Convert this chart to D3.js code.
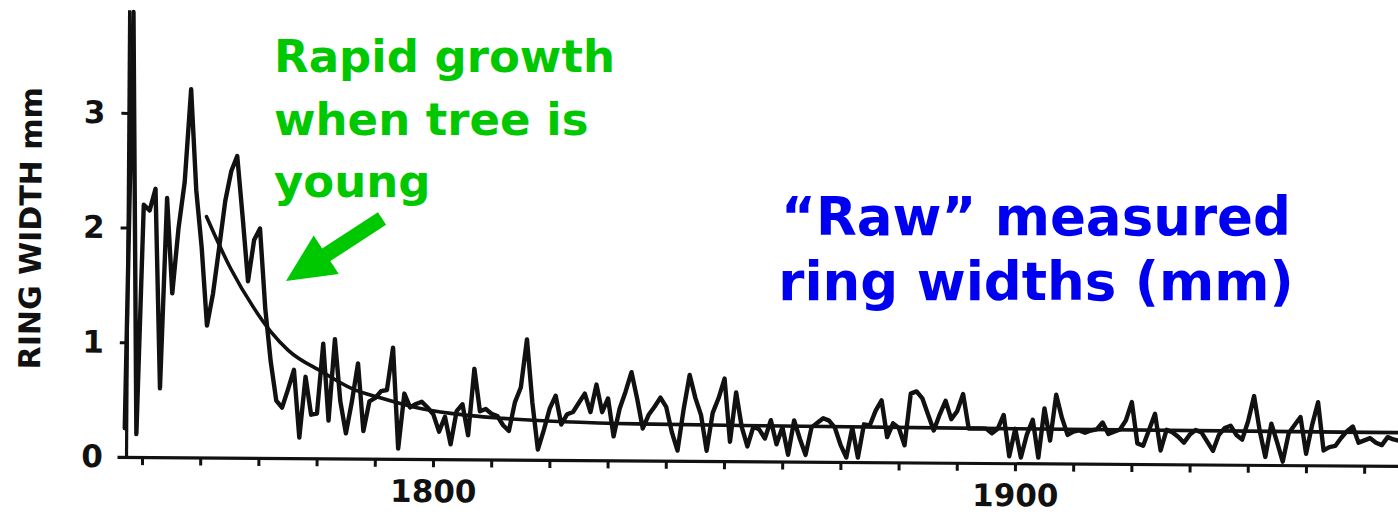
<!DOCTYPE html>
<html>
<head>
<meta charset="utf-8">
<script src="https://cdn.jsdelivr.net/npm/d3@7"></script>
<style>
  html, body { margin: 0; padding: 0; background: #fff; }
  svg { display: block; }
</style>
</head>
<body>
<svg id="chart" width="1398" height="515"></svg>
<script>
// Annual ring widths (mm), one value per year starting at firstYear
const firstYear = 1747;
const ringWidths = [
  0.25, 3.88, 0.20, 2.20, 2.15, 2.34, 0.60, 2.26, 1.43, 2.00,   // 1747-1756
  2.40, 3.21, 2.33, 1.83, 1.15, 1.43, 1.83, 2.24, 2.50, 2.63,   // 1757-1766
  2.10, 1.54, 1.90, 2.00, 1.30, 0.84, 0.50, 0.44, 0.60, 0.77,   // 1767-1776
  0.18, 0.71, 0.38, 0.39, 1.00, 0.33, 1.04, 0.50, 0.22, 0.50,   // 1777-1786
  0.83, 0.24, 0.50, 0.53, 0.59, 0.60, 0.97, 0.09, 0.57, 0.45,   // 1787-1796
  0.48, 0.50, 0.45, 0.39, 0.24, 0.37, 0.13, 0.42, 0.48, 0.21,   // 1797-1806
  0.79, 0.42, 0.44, 0.40, 0.38, 0.30, 0.25, 0.50, 0.63, 1.05,   // 1807-1816
  0.50, 0.09, 0.26, 0.45, 0.56, 0.31, 0.40, 0.42, 0.50, 0.58,   // 1817-1826
  0.42, 0.66, 0.42, 0.54, 0.21, 0.45, 0.60, 0.77, 0.54, 0.28,   // 1827-1836
  0.40, 0.47, 0.55, 0.47, 0.25, 0.09, 0.45, 0.75, 0.55, 0.40,   // 1837-1846
  0.09, 0.42, 0.55, 0.72, 0.17, 0.60, 0.30, 0.13, 0.30, 0.28,   // 1847-1856
  0.20, 0.36, 0.15, 0.30, 0.06, 0.36, 0.20, 0.06, 0.30, 0.34,   // 1857-1866
  0.38, 0.36, 0.30, 0.15, 0.04, 0.30, 0.04, 0.33, 0.32, 0.45,   // 1867-1876
  0.54, 0.22, 0.34, 0.30, 0.15, 0.60, 0.62, 0.56, 0.42, 0.28,   // 1877-1886
  0.42, 0.54, 0.38, 0.45, 0.60, 0.30, 0.30, 0.30, 0.30, 0.26,   // 1887-1896
  0.30, 0.42, 0.06, 0.30, 0.05, 0.25, 0.38, 0.05, 0.48, 0.20,   // 1897-1906
  0.60, 0.40, 0.25, 0.28, 0.29, 0.27, 0.29, 0.30, 0.36, 0.26,   // 1907-1916
  0.28, 0.30, 0.38, 0.54, 0.18, 0.16, 0.30, 0.44, 0.12, 0.30,   // 1917-1926
  0.28, 0.24, 0.19, 0.26, 0.30, 0.28, 0.20, 0.12, 0.26, 0.32,   // 1927-1936
  0.34, 0.26, 0.22, 0.38, 0.60, 0.30, 0.07, 0.36, 0.20, 0.03,   // 1937-1946
  0.28, 0.35, 0.42, 0.10, 0.35, 0.55, 0.13, 0.16, 0.17, 0.24,   // 1947-1956
  0.30, 0.34, 0.20, 0.22, 0.24, 0.20, 0.18, 0.25, 0.23, 0.22    // 1957-1966
];
const years = ringWidths.map((_, i) => firstYear + i);

// Fitted growth trend (negative-exponential style curve)
const trendYears  = [1760.8, 1765, 1769, 1772, 1775, 1781, 1786, 1791, 1797, 1803, 1812, 1835, 1860, 1900, 1966];
const trendWidths = [2.10, 1.65, 1.31, 1.10, 0.94, 0.75, 0.61, 0.53, 0.45, 0.40, 0.36, 0.32, 0.31, 0.30, 0.29];

// Axis ticks and labels
const yTickValues = [0, 1, 2, 3];
const xTickYears = d3.range(1750, 1961, 10);
const labelledYears = [1800, 1900];
const yAxisTitle = "RING WIDTH mm";

// Annotation text
const noteLines = ["Rapid growth", "when tree is", "young"];
const titleLines = ["\u201CRaw\u201D measured", "ring widths (mm)"];

const AXIS_FONT = "'DejaVu Sans', 'Liberation Sans', sans-serif";
const INK = "#111";
const GREEN = "#00c800";
const BLUE = "#0000f0";

const svg = d3.select("#chart");

const pxPerYear = 5.82;
const x = d3.scaleLinear().domain([1745.7, 1970]).range([117, 117 + (1970 - 1745.7) * pxPerYear]);
const y = d3.scaleLinear().domain([0, 3.9]).range([457, 457 - 3.9 * 114.7]);

// The plot sits on a very slightly tilted frame
const plot = svg.append("g").attr("transform", "rotate(0.4,126,457)");

// Y axis
const yAxis = plot.append("g")
  .attr("transform", "translate(126,0)")
  .call(d3.axisLeft(y).tickValues(yTickValues).tickFormat(d3.format("d"))
    .tickSize(7).tickSizeOuter(0).tickPadding(16));
yAxis.select(".domain").attr("stroke", INK).attr("stroke-width", 3.2);
yAxis.selectAll(".tick line").attr("stroke", INK).attr("stroke-width", 3);
yAxis.selectAll(".tick text")
  .attr("fill", INK)
  .style("font-family", AXIS_FONT)
  .style("font-weight", "bold")
  .style("font-size", "31px");

// X axis
const xAxis = plot.append("g")
  .attr("transform", "translate(0,457)")
  .call(d3.axisBottom(x).tickValues(xTickYears).tickSize(8).tickSizeOuter(0).tickPadding(13)
    .tickFormat(d => labelledYears.includes(d) ? String(d) : ""));
xAxis.select(".domain").attr("stroke", INK).attr("stroke-width", 3.2);
xAxis.selectAll(".tick line").attr("stroke", INK).attr("stroke-width", 3);
xAxis.selectAll(".tick text")
  .attr("fill", INK)
  .style("font-family", AXIS_FONT)
  .style("font-weight", "bold")
  .style("font-size", "31px");

// Y axis title
plot.append("text")
  .attr("transform", "translate(29,229) rotate(-90)")
  .attr("text-anchor", "middle")
  .attr("dominant-baseline", "central")
  .attr("fill", INK)
  .style("font-family", AXIS_FONT)
  .style("font-weight", "bold")
  .style("font-size", "30px")
  .text(yAxisTitle);

// Ring width series
const series = years.map((yr, i) => ({ year: yr, w: ringWidths[i] }));
plot.append("path")
  .datum(series)
  .attr("fill", "none")
  .attr("stroke", INK)
  .attr("stroke-width", 4.4)
  .attr("stroke-linejoin", "round")
  .attr("stroke-linecap", "round")
  .attr("d", d3.line().x(d => x(d.year)).y(d => y(d.w)));

// Trend curve
const trend = trendYears.map((yr, i) => ({ year: yr, w: trendWidths[i] }));
plot.append("path")
  .datum(trend)
  .attr("fill", "none")
  .attr("stroke", INK)
  .attr("stroke-width", 3.6)
  .attr("stroke-linecap", "round")
  .attr("d", d3.line().curve(d3.curveMonotoneX).x(d => x(d.year)).y(d => y(d.w)));

// Green note with arrow
const note = svg.append("g")
  .attr("fill", GREEN)
  .style("font-family", "'DejaVu Sans', sans-serif")
  .style("font-weight", "bold")
  .style("font-size", "45px");
noteLines.forEach((line, i) => {
  note.append("text").attr("x", 274).attr("y", 72 + i * 62.5).text(line);
});

function arrowPoints(tail, tip, shaftW, headLen, headW) {
  const dx = tip[0] - tail[0], dy = tip[1] - tail[1];
  const len = Math.hypot(dx, dy);
  const ux = dx / len, uy = dy / len;
  const px = -uy, py = ux;
  const bx = tip[0] - ux * headLen, by = tip[1] - uy * headLen;
  const s = shaftW / 2, h = headW / 2;
  return [
    [tail[0] + px * s, tail[1] + py * s],
    [bx + px * s, by + py * s],
    [bx + px * h, by + py * h],
    tip,
    [bx - px * h, by - py * h],
    [bx - px * s, by - py * s],
    [tail[0] - px * s, tail[1] - py * s]
  ];
}
svg.append("polygon")
  .attr("fill", GREEN)
  .attr("points", arrowPoints([382, 218.5], [286, 281], 15, 48, 46).map(p => p.join(",")).join(" "));

// Blue title
const title = svg.append("g")
  .attr("fill", BLUE)
  .attr("text-anchor", "middle")
  .style("font-family", "'DejaVu Sans', sans-serif")
  .style("font-weight", "bold")
  .style("font-size", "53px");
titleLines.forEach((line, i) => {
  title.append("text").attr("x", 1036).attr("y", 235 + i * 65).text(line);
});
</script>
</body>
</html>
